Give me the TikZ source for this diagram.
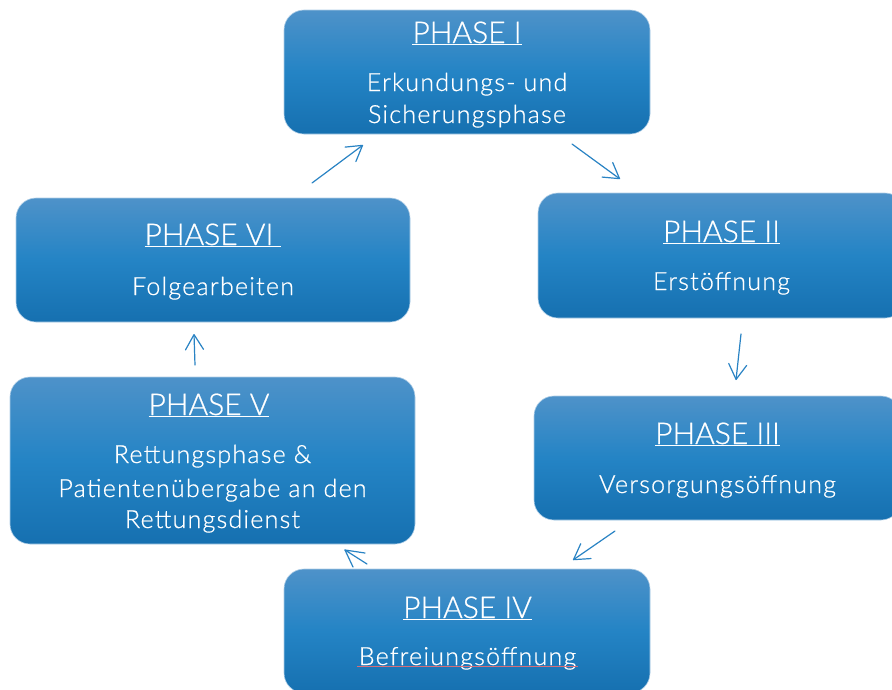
\documentclass[tikz,border=0pt]{standalone}
\usepackage{fontspec}
\setmainfont[FakeBold=0.7]{Lato Light}
\newfontfamily\bodyfont[LetterSpace=5,FakeBold=0.7]{Lato Light}
\usetikzlibrary{arrows.meta}
\definecolor{btop}{RGB}{78,146,201}
\definecolor{bmid}{RGB}{36,132,197}
\definecolor{bbot}{RGB}{22,112,176}
\definecolor{arr}{RGB}{41,131,196}
\definecolor{spell}{RGB}{214,110,120}
\begin{document}
\begin{tikzpicture}[x=1pt,y=-1pt,
  phasebox/.style={rounded corners=20pt, top color=btop, bottom color=bbot, middle color=bmid,
    draw=btop!45!white, line width=0.6pt, inner sep=0pt},
  ttl/.style={text=white, font=\fontsize{30}{36}\selectfont, anchor=base, inner sep=0pt},
  bodytext/.style={text=white, font=\bodyfont\fontsize{25}{32}\selectfont, anchor=base, inner sep=0pt},
  plainline/.style={draw=arr, line width=1.2pt, line cap=round, line join=round},
  link/.style={plainline,
    -{Straight Barb[length=15pt,width=18pt,line cap=round,line join=round]}}]
\clip (0,0) rectangle (892,689);
\fill[white] (0,0) rectangle (892,689);

% boxes
\node[phasebox, minimum width=366pt, minimum height=124pt] (p1) at (467,72) {};
\node[phasebox, minimum width=367pt, minimum height=125pt] (p2) at (721.5,255.5) {};
\node[phasebox, minimum width=367pt, minimum height=124pt] (p3) at (717.5,458) {};
\node[phasebox, minimum width=366pt, minimum height=124pt] (p4) at (467,631) {};
\node[phasebox, minimum width=405pt, minimum height=167pt] (p5) at (212.5,460.5) {};
\node[phasebox, minimum width=394pt, minimum height=124pt] (p6) at (213,260) {};

% texts
\node[ttl] (t1) at (467,43) {\underline{PHASE I}};
\node[bodytext] (b1a) at (467,91) {Erkundungs- und};
\node[bodytext] (b1b) at (467,123) {Sicherungsphase};

\node[ttl] (t2) at (721.5,242) {\underline{PHASE II}};
\node[bodytext] (b2) at (721.5,290) {Erstöffnung};

\node[ttl] (t3) at (717.5,444) {\underline{PHASE III}};
\node[bodytext] (b3) at (717.5,493) {Versorgungsöffnung};

\node[ttl] (t4) at (467.5,618) {\underline{PHASE IV}};
\node[bodytext] (b4) at (467.5,665) {Befreiungsöffnung};
\coordinate (s1) at (357,666.5);
\coordinate (s2) at (578,666.5);
\draw[spell, line width=0.8pt] (s1) -- (s2);

\node[ttl] (t5) at (209,415) {\underline{PHASE V}};
\node[bodytext] (b5a) at (212.5,463) {Rettungsphase \&};
\node[bodytext] (b5b) at (212.5,497) {Patientenübergabe an den};
\node[bodytext] (b5c) at (212.5,528) {Rettungsdienst};

\node[ttl] (t6) at (213,245) {\underline{PHASE VI\ }};
\node[bodytext] (b6) at (213,295) {Folgearbeiten};

% arrows
\coordinate (a61) at (312,183); \coordinate (a61e) at (363,145);
\coordinate (a12) at (572,144); \coordinate (a12e) at (620,179);
\coordinate (a23) at (741,334); \coordinate (a23e) at (736,380);
\coordinate (a34) at (615,531); \coordinate (a34e) at (573,560);
\coordinate (a45) at (353,567); \coordinate (a45e) at (345,550);
\coordinate (h45a) at (365,553); \coordinate (h45b) at (367,564);
\coordinate (a56) at (195,365); \coordinate (a56e) at (194,334);
\draw[link] (a61) -- (a61e);
\draw[link] (a12) -- (a12e);
\draw[link] (a23) -- (a23e);
\draw[link] (a34) -- (a34e);
\draw[plainline] (a45) -- (a45e);
\draw[plainline] (h45a) -- (a45e) -- (h45b);
\draw[link] (a56) -- (a56e);
\end{tikzpicture}
\end{document}
